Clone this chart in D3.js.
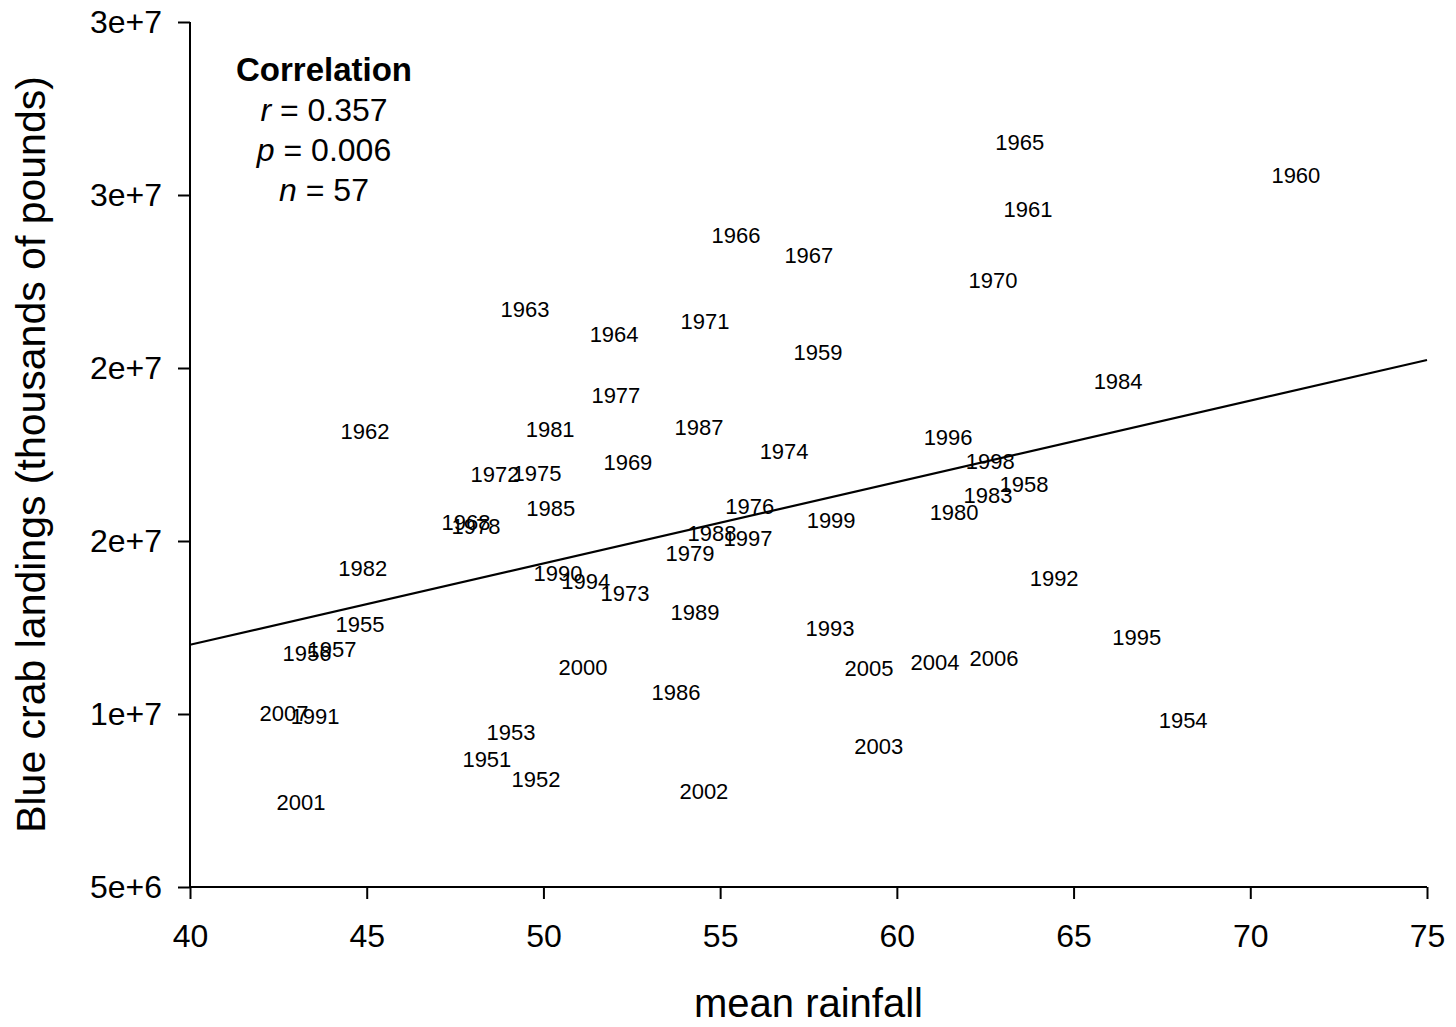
<!DOCTYPE html>
<html>
<head>
<meta charset="utf-8">
<script src="https://cdn.jsdelivr.net/npm/d3@7"></script>
<style>
  body { margin: 0; background: #fff; }
  svg text { font-family: "Liberation Sans", Arial, sans-serif; fill: #000; }
</style>
</head>
<body>
<div class="chart"></div>
<script>
// year labels, mean rainfall, blue crab landings
const years = [1951,1952,1953,1954,1955,1956,1957,1958,1959,1960,
  1961,1962,1963,1964,1965,1966,1967,1968,1969,1970,
  1971,1972,1973,1974,1975,1976,1977,1978,1979,1980,
  1981,1982,1983,1984,1985,1986,1987,1988,1989,1990,
  1991,1992,1993,1994,1995,1996,1997,1998,1999,2000,
  2001,2002,2003,2004,2005,2006,2007]
const rainfall = [48.40,49.79,49.08,68.10,44.81,43.31,44.02,63.60,57.77,71.29,
  63.71,44.95,49.48,52.00,63.48,55.45,57.51,47.81,52.39,62.72,
  54.57,48.63,52.31,56.81,49.82,55.84,52.05,48.09,54.15,61.62,
  50.19,44.89,62.58,66.26,50.21,53.75,54.40,54.77,54.29,50.41,
  43.54,64.45,58.11,51.20,66.79,61.45,55.79,62.64,58.14,51.12,
  43.14,54.54,59.49,61.08,59.21,62.75,42.66]
const landings = [8.70e6,8.12e6,9.48e6,9.83e6,12.60e6,11.76e6,11.88e6,16.65e6,20.46e6,25.58e6,
  24.60e6,18.18e6,21.71e6,20.98e6,26.53e6,23.84e6,23.27e6,15.55e6,17.28e6,22.54e6,
  21.36e6,16.94e6,13.50e6,17.60e6,16.97e6,16.01e6,19.22e6,15.43e6,14.65e6,15.84e6,
  18.24e6,14.22e6,16.33e6,19.62e6,15.95e6,10.64e6,18.29e6,15.23e6,12.95e6,14.08e6,
  9.94e6,13.93e6,12.49e6,13.84e6,12.23e6,18.01e6,15.09e6,17.31e6,15.61e6,11.36e6,
  7.46e6,7.77e6,9.08e6,11.50e6,11.33e6,11.62e6,10.03e6]

// fitted line end points
const fitX = [40, 75]
const fitY = [12.0e6, 20.23e6]

const xTicks = [40,45,50,55,60,65,70,75]
const yTicks = [5e6,10e6,15e6,20e6,25e6,30e6]
const yTickLabels = ["5e+6","1e+7","2e+7","2e+7","3e+7","3e+7"]

const statsLines = ["r = 0.357", "p = 0.006", "n = 57"]

const width = 1456, height = 1027
const margin = ({top: 22, right: 29, bottom: 140, left: 190})

const data = years.map((y,i)=>({year: y, x: rainfall[i], y: landings[i]}))

const svg = d3.select('.chart').append('svg')
    .attr("width", width)
    .attr("height", height)

const xScale = d3.scaleLinear()
    .domain([40, 75])
    .range([margin.left, width - margin.right])

const yScale = d3.scaleLinear()
    .domain([5e6, 30e6])
    .range([height - margin.bottom, margin.top])

const xAxis = d3.axisBottom(xScale)
    .tickValues(xTicks)
    .tickSize(12)
    .tickPadding(25)

const yAxis = d3.axisLeft(yScale)
    .tickValues(yTicks)
    .tickFormat((d,i)=>yTickLabels[i])
    .tickSize(12)
    .tickPadding(16)

const gx = svg.append("g")
    .attr("class", "axis x-axis")
    .attr("transform", `translate(0, ${height - margin.bottom})`)
    .call(xAxis)
gx.select(".domain").attr("d", `M${xScale(40)},0H${xScale(75)}`)

const gy = svg.append("g")
    .attr("class", "axis y-axis")
    .attr("transform", `translate(${margin.left}, 0)`)
    .call(yAxis)
gy.select(".domain").attr("d", `M0,${yScale(5e6)}V${yScale(30e6)}`)

svg.selectAll(".axis path, .axis line")
    .attr("stroke", "#000")
    .attr("stroke-width", 2)
svg.selectAll(".axis text")
    .style("font-size", "32px")
    .attr("fill", "#000")

// regression line
svg.append("line")
    .attr("x1", xScale(fitX[0])).attr("y1", yScale(fitY[0]))
    .attr("x2", xScale(fitX[1])).attr("y2", yScale(fitY[1]))
    .attr("stroke", "#000")
    .attr("stroke-width", 2.2)

// year labels as points
svg.selectAll(".yr")
    .data(data)
    .enter()
    .append("text")
    .attr("class", "yr")
    .attr("x", d=>xScale(d.x))
    .attr("y", d=>yScale(d.y))
    .attr("dy", "0.36em")
    .attr("text-anchor", "middle")
    .style("font-size", "22px")
    .text(d=>d.year)

// correlation box
const leg = svg.append("g").attr("transform", "translate(324, 0)")
leg.append("text")
    .attr("y", 81)
    .attr("text-anchor", "middle")
    .style("font-size", "33px")
    .style("font-weight", "bold")
    .text("Correlation")
statsLines.forEach((s,i)=>{
    const parts = s.split(" = ")
    const t = leg.append("text")
        .attr("y", 121 + i*40)
        .attr("text-anchor", "middle")
        .style("font-size", "32px")
    t.append("tspan").style("font-style", "italic").text(parts[0])
    t.append("tspan").text(" = " + parts[1])
})

// axis titles
svg.append("text")
    .attr("x", (xScale(40) + xScale(75))/2)
    .attr("y", 1017)
    .attr("text-anchor", "middle")
    .style("font-size", "40px")
    .text("mean rainfall")

svg.append("text")
    .attr("transform", `translate(45, ${(yScale(5e6) + yScale(30e6))/2}) rotate(-90)`)
    .attr("text-anchor", "middle")
    .style("font-size", "41px")
    .text("Blue crab landings (thousands of pounds)")
</script>
</body>
</html>
